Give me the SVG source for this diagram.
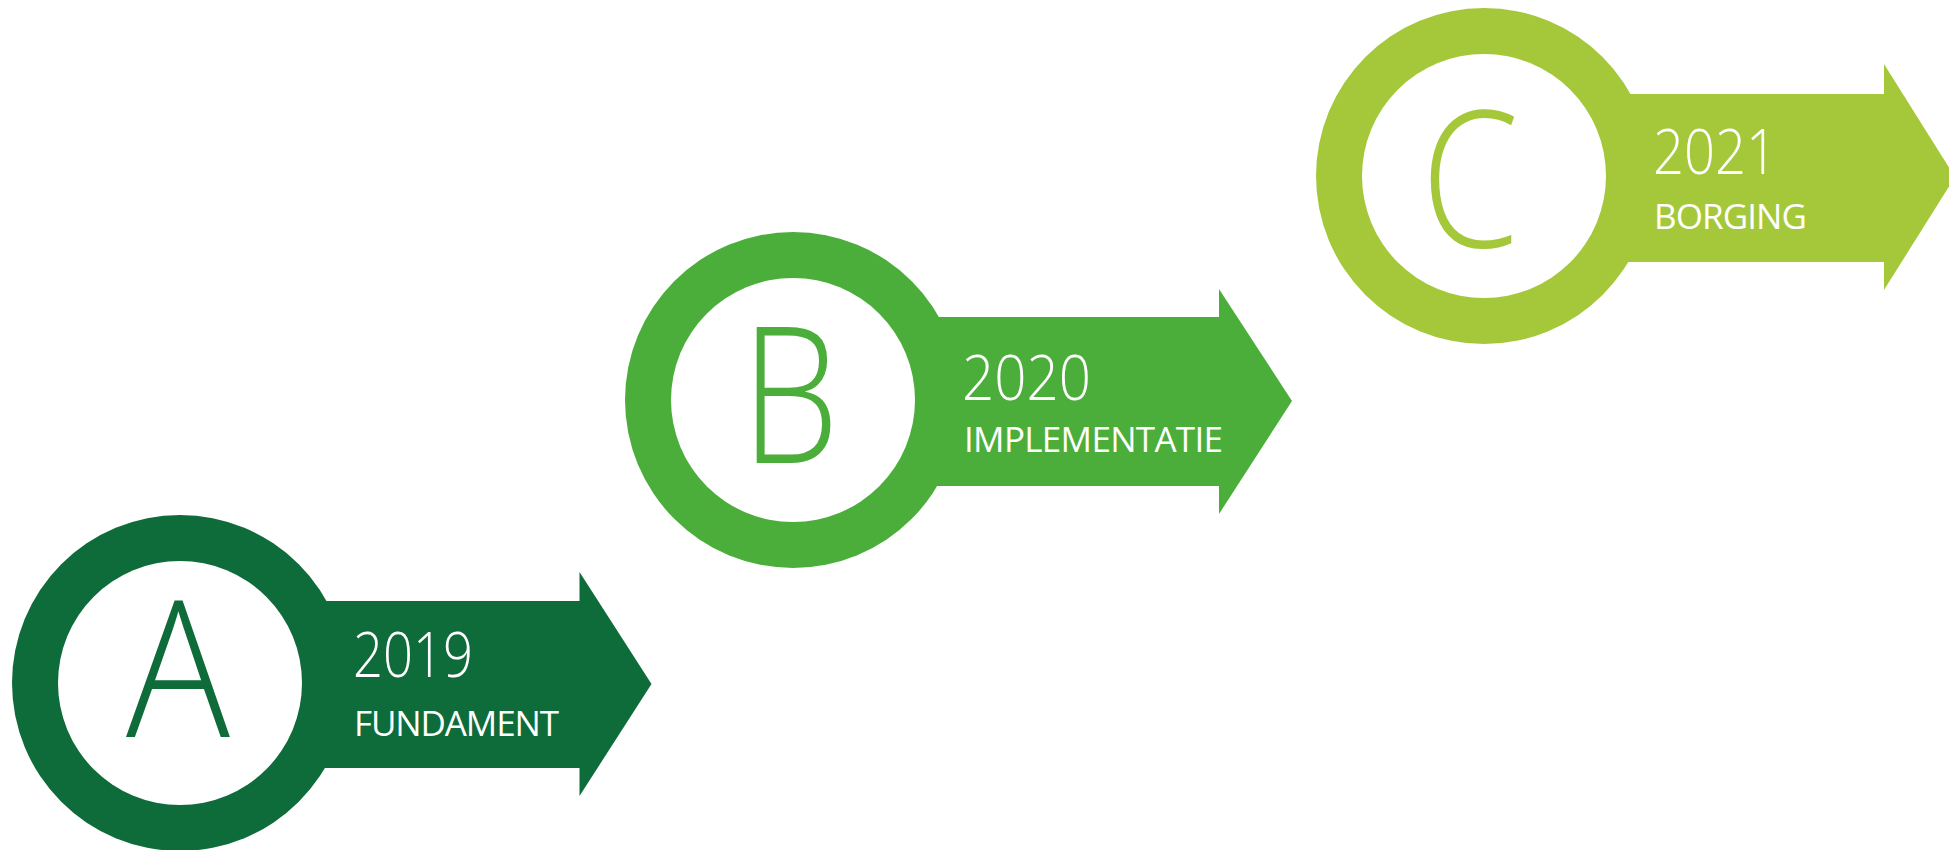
<svg xmlns="http://www.w3.org/2000/svg" width="1949" height="850" viewBox="0 0 1949 850">
<style>
.hole{fill:#ffffff}
.a{fill:#0e6b3a}
.b{fill:#4cae3a}
.c{fill:#a5c83a}
.letter{font-family:"Open Sans","Liberation Sans",sans-serif;font-weight:300;font-size:190px}
.year{font-family:"Open Sans","Liberation Sans",sans-serif;font-weight:300;font-size:63px;fill:#ffffff}
.label{font-family:"Open Sans","Liberation Sans",sans-serif;font-weight:400;font-size:35px;fill:#ffffff}
</style>
<rect width="1949" height="850" fill="#ffffff"/>
<g id="node-a">
<circle class="a" cx="180" cy="683" r="168"/>
<rect class="a" x="250" y="601" width="330" height="167"/>
<polygon class="a" points="579.5,572 651.5,684 579.5,796"/>
<circle class="hole" cx="180" cy="683" r="122"/>
<text class="letter a" x="178" y="737" text-anchor="middle" textLength="104" lengthAdjust="spacingAndGlyphs">A</text>
<text class="year" x="353" y="677" textLength="120" lengthAdjust="spacingAndGlyphs">2019</text>
<text class="label" x="354" y="736" textLength="205">FUNDAMENT</text>
</g>
<g id="node-b">
<circle class="b" cx="793" cy="400" r="168"/>
<rect class="b" x="863" y="317" width="357" height="169"/>
<polygon class="b" points="1219,289 1292,401 1219,514"/>
<circle class="hole" cx="793" cy="400" r="122"/>
<text class="letter b" x="790" y="463" text-anchor="middle" textLength="98" lengthAdjust="spacingAndGlyphs">B</text>
<text class="year" x="962" y="400" textLength="129" lengthAdjust="spacingAndGlyphs">2020</text>
<text class="label" x="964" y="452" textLength="259">IMPLEMENTATIE</text>
</g>
<g id="node-c">
<circle class="c" cx="1484" cy="176" r="168"/>
<rect class="c" x="1554" y="94" width="331" height="168"/>
<polygon class="c" points="1884,64 1955,177 1884,290"/>
<circle class="hole" cx="1484" cy="176" r="122"/>
<text class="letter c" x="1470" y="247" text-anchor="middle" textLength="98" lengthAdjust="spacingAndGlyphs">C</text>
<text class="year" x="1653" y="174" textLength="124" lengthAdjust="spacingAndGlyphs">2021</text>
<text class="label" x="1654" y="229" textLength="153">BORGING</text>
</g>
<g id="connectors"></g>
</svg>
